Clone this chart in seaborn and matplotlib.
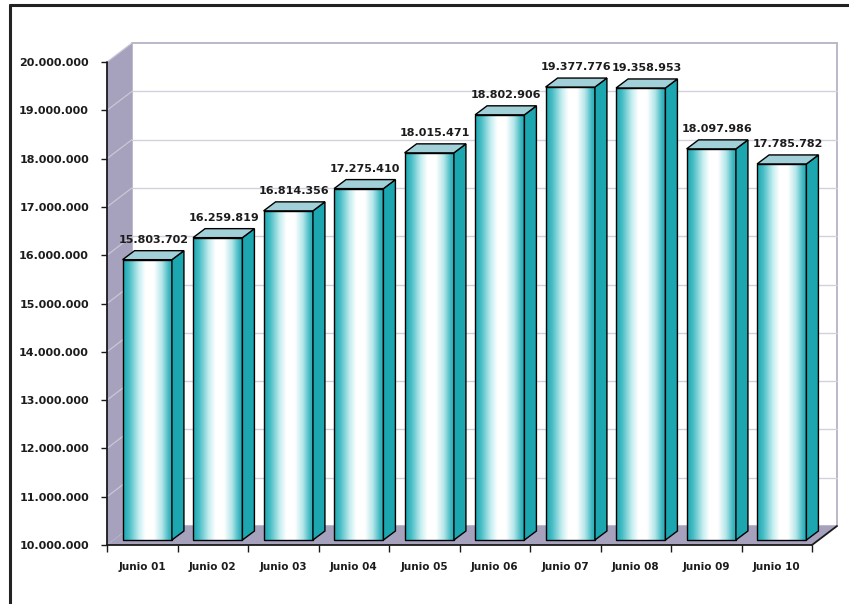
import numpy as np
import pandas as pd
import seaborn as sns
import matplotlib
matplotlib.use("Agg")
import matplotlib.pyplot as plt
from matplotlib.patches import Polygon
from matplotlib.lines import Line2D
from matplotlib.colors import LinearSegmentedColormap
from matplotlib.transforms import ScaledTranslation
from matplotlib.ticker import FuncFormatter

# ---- data ----
categories = ["Junio 01", "Junio 02", "Junio 03", "Junio 04", "Junio 05",
              "Junio 06", "Junio 07", "Junio 08", "Junio 09", "Junio 10"]
values = [15803702, 16259819, 16814356, 17275410, 18015471,
          18802906, 19377776, 19358953, 18097986, 17785782]
y_min, y_max, y_step = 10_000_000, 20_000_000, 1_000_000


def fmt(v):
    return f"{int(v):,}".replace(",", ".")


sns.set_style("white")
plt.rcParams["font.family"] = ["DejaVu Sans"]

W, H = 849, 604
fig = plt.figure(figsize=(W / 100, H / 100), dpi=100)
fig.patch.set_facecolor("white")
ax = fig.add_axes([112 / W, 64 / H, 705 / W, 483 / H])
ax.set_facecolor("none")

df = pd.DataFrame({"mes": categories, "valor": values})
sns.barplot(data=df, x="mes", y="valor", ax=ax, width=0.7, color="#25aab3",
            edgecolor="black", linewidth=1.0, zorder=3)
bars = list(ax.patches)

cmap = LinearSegmentedColormap.from_list(
    "cyl", [(0.0, "#1fa7b1"), (0.12, "#45bcc4"), (0.32, "#c6eef0"),
            (0.45, "#ffffff"), (0.62, "#ffffff"), (0.78, "#b4e6ea"), (0.92, "#3fb8c1"), (1.0, "#1fa7b1")])
grad = np.linspace(0, 1, 256).reshape(1, -1)
for p in bars:
    x0, w, h = p.get_x(), p.get_width(), p.get_height()
    im = ax.imshow(grad, cmap=cmap, extent=[x0, x0 + w, y_min, h],
                   aspect="auto", zorder=2.5, interpolation="bilinear")
    im.set_clip_path(p)
    p.set_facecolor("none")

ax.set_xlim(-0.5, len(categories) - 0.5)
ax.set_ylim(y_min, y_max)
ax.set_xlabel("")
ax.set_ylabel("")
sns.despine(ax=ax, left=True, bottom=True, top=True, right=True)

# pixel offsets: front plane, back plane, bar depth
F = (-5, -5)
B = (20, 14)
BD = (12, 9)


def pt(x, y, d=(0, 0)):
    disp = ax.transData.transform((x, y)) + np.array(d)
    return ax.transAxes.inverted().transform(disp)


xl, xr = -0.5, len(categories) - 0.5
wall_c = "#a6a1bc"

# back wall
ax.add_patch(Polygon([pt(xl, y_min, B), pt(xr, y_min, B), pt(xr, y_max, B), pt(xl, y_max, B)],
                     closed=True, fc="white", ec="#b6b2c6", lw=1.3,
                     transform=ax.transAxes, clip_on=False, zorder=0.2))
# left wall
ax.add_patch(Polygon([pt(xl, y_min, F), pt(xl, y_min, B), pt(xl, y_max, B), pt(xl, y_max, F)],
                     closed=True, fc=wall_c, ec="none",
                     transform=ax.transAxes, clip_on=False, zorder=0.3))
# floor
ax.add_patch(Polygon([pt(xl, y_min, F), pt(xr, y_min, F), pt(xr, y_min, B), pt(xl, y_min, B)],
                     closed=True, fc=wall_c, ec="none",
                     transform=ax.transAxes, clip_on=False, zorder=0.3))

ticks = np.arange(y_min, y_max + 1, y_step)
for v in ticks[1:-1]:
    a, b = pt(xl, v, B), pt(xr, v, B)
    ax.add_line(Line2D([a[0], b[0]], [a[1], b[1]], color="#d3cfdd", lw=1.0,
                       transform=ax.transAxes, clip_on=False, zorder=0.25))
for v in ticks[1:]:
    a, b = pt(xl, v, F), pt(xl, v, B)
    ax.add_line(Line2D([a[0], b[0]], [a[1], b[1]], color="#cbc7d8", lw=0.9,
                       transform=ax.transAxes, clip_on=False, zorder=0.35))

# front axis lines
for (p1, p2) in [(pt(xl, y_min, F), pt(xl, y_max, F)),
                 (pt(xl, y_min, F), pt(xr, y_min, F)),
                 (pt(xr, y_min, F), pt(xr, y_min, B))]:
    ax.add_line(Line2D([p1[0], p2[0]], [p1[1], p2[1]], color="#1a1a1a", lw=1.3,
                       transform=ax.transAxes, clip_on=False, zorder=0.4))

# bar sides, tops, labels
for p, v in zip(bars, values):
    x0, w, h = p.get_x(), p.get_width(), p.get_height()
    x1 = x0 + w
    side = [pt(x1, y_min), pt(x1, h), pt(x1, h, BD), pt(x1, y_min, BD)]
    top = [pt(x0, h), pt(x1, h), pt(x1, h, BD), pt(x0, h, BD)]
    ax.add_patch(Polygon(side, closed=True, fc="#1ba6b0", ec="black", lw=1.0,
                         transform=ax.transAxes, clip_on=False, zorder=3))
    ax.add_patch(Polygon(top, closed=True, fc="#a2d0d8", ec="black", lw=1.0,
                         transform=ax.transAxes, clip_on=False, zorder=3))
    a, b = pt(x0, y_min), pt(x1, y_min)
    ax.add_line(Line2D([a[0], b[0]], [a[1], b[1]], color="black", lw=1.0,
                       transform=ax.transAxes, clip_on=False, zorder=3))
    ax.annotate(fmt(v), xy=(x0 + w / 2, h), xytext=(BD[0] / 2, BD[1] + 6),
                textcoords="offset pixels", ha="center", va="bottom",
                fontsize=8, fontweight="bold", color="#1c1c1c", zorder=4)

# ticks and tick labels
ax.set_yticks(ticks)
ax.yaxis.set_major_formatter(FuncFormatter(lambda v, _: fmt(v)))
ax.tick_params(axis="y", which="major", left=True, length=4, width=1.0, pad=9,
               labelsize=8, direction="out", color="#1a1a1a", labelcolor="#1c1c1c")
ax.set_xticks(range(len(categories)))
ax.set_xticklabels(categories)
ax.set_xticks(np.arange(-0.5, len(categories), 1), minor=True)
ax.tick_params(axis="x", which="major", length=0, pad=12, labelsize=7.5,
               labelcolor="#1c1c1c")
ax.tick_params(axis="x", which="minor", bottom=True, length=5, width=1.0,
               direction="out", color="#1a1a1a")
for lab in ax.get_yticklabels() + ax.get_xticklabels():
    lab.set_fontweight("bold")

off = ScaledTranslation(F[0] / 100, F[1] / 100, fig.dpi_scale_trans)
for t in ax.yaxis.get_major_ticks() + ax.xaxis.get_major_ticks() + ax.xaxis.get_minor_ticks():
    t.tick1line.set_transform(t.tick1line.get_transform() + off)
    t.label1.set_transform(t.label1.get_transform() + off)

# outer frame (top and left edges)
fig.add_artist(Line2D([10 / W, 1.0], [1 - 5 / H, 1 - 5 / H], transform=fig.transFigure,
                      color="#222222", lw=2.2))
fig.add_artist(Line2D([10 / W, 10 / W], [0.0, 1 - 5 / H], transform=fig.transFigure,
                      color="#222222", lw=2.2))

fig.savefig("out.png", dpi=100)
